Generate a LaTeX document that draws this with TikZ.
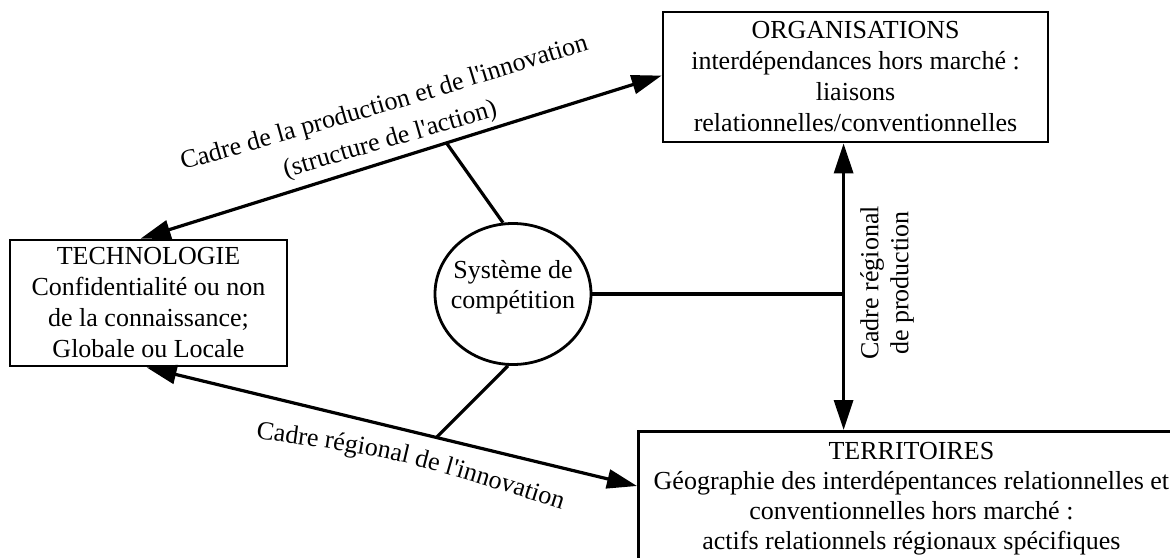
\documentclass[tikz,border=0pt]{standalone}
\usepackage{fontspec}
\setmainfont{Liberation Serif}[Ligatures=TeXOff]
\usetikzlibrary{arrows.meta,calc,decorations.text,shapes.geometric}
\newcommand{\lblfont}{\fontsize{26}{31}\selectfont}
\begin{document}
\begin{tikzpicture}[x=1pt,y=-1pt,
  box/.style={draw,line width=2.8pt,inner sep=0pt,align=center,font=\lblfont},
  link/.style={line width=3.2pt},
  dblarrow/.style={line width=3.2pt,{Triangle[length=30pt,width=19pt]}-{Triangle[length=30pt,width=19pt]}},
  lbl/.style={font=\lblfont}]
\useasboundingbox (0,0) rectangle (1170,557);
\begin{scope}
\clip (0,0) rectangle (1170,557);
% the four blocks of the system
\node[box,minimum width=277,minimum height=126] (tech) at (148.5,303)
  {TECHNOLOGIE\\Confidentialité ou non\\de la connaissance;\\Globale ou Locale};
\node[box,minimum width=385,minimum height=130] (org) at (855.5,77)
  {ORGANISATIONS\\interdépendances hors marché :\\liaisons\\relationnelles/conventionnelles};
\node[draw,ellipse,line width=2.8pt,minimum width=156,minimum height=141,inner sep=0pt] (comp) at (513,294) {};
\node[lbl,align=center,font=\fontsize{26}{30}\selectfont] (comptext) at (513,287) {Système de\\compétition};
\node[box,anchor=north west,minimum width=546,inner ysep=11pt,
  font=\fontsize{26}{30}\selectfont] (terr) at (637,430)
  {TERRITOIRES\\Géographie des interdépentances relationnelles et\\conventionnelles hors marché :\\actifs relationnels régionaux spécifiques};
\end{scope}
% end points of the connectors
\coordinate (tA) at ($(tech.north west)+(132,0)$);
\coordinate (oA) at ($(org.north west)+(0,65)$);
\coordinate (tB) at ($(tech.south west)+(138,0)$);
\coordinate (rB) at ($(terr.north west)+(0,56)$);
\coordinate (vt) at ($(org.south west)+(182,0)$);
\coordinate (vb) at (terr.north west -| vt);
% framework arrows
\draw[dblarrow] (tA) -- (oA) coordinate[pos=0.587] (uM);
\draw[dblarrow] (tB) -- (rB) coordinate[pos=0.591] (lM);
\draw[dblarrow] (vt) -- (vb);
% links from the competition system
\draw[link] (comp.98) -- (uM);
\draw[link] (comp.-94) -- (lM);
\draw[link] (comp.east) -- (comp.east -| vt);
% labels
\path[decorate,decoration={text along path,text align=center,
  text={|\lblfont|Cadre de la production et de l'innovation}}]
  (172,173) .. controls (385,113) .. (600,46);
\path[decorate,decoration={text along path,text align=center,
  text={|\lblfont|(structure de l'action)}}]
  (274,181) -- (510,112);
\path[decorate,decoration={text along path,text align=center,
  text={|\lblfont|Cadre régional de l'innovation}}]
  (245,437) .. controls (400,458) .. (572,513);
\node[lbl,rotate=90,align=center,font=\fontsize{26}{30}\selectfont] (vlab) at (887,283)
  {Cadre régional\\de production};
\end{tikzpicture}
\end{document}
